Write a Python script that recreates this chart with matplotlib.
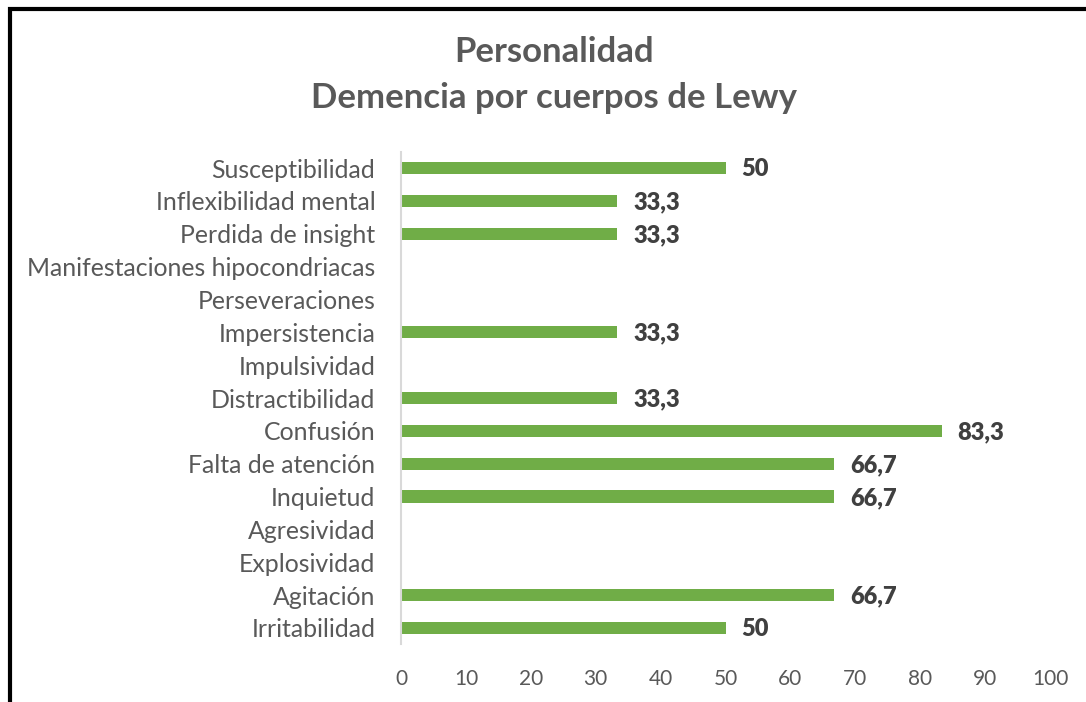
import matplotlib
matplotlib.use("Agg")
import matplotlib.pyplot as plt
from matplotlib.patches import Rectangle

categories = ["Susceptibilidad", "Inflexibilidad mental", "Perdida de insight",
              "Manifestaciones hipocondriacas", "Perseveraciones", "Impersistencia",
              "Impulsividad", "Distractibilidad", "Confusión", "Falta de atención",
              "Inquietud", "Agresividad", "Explosividad", "Agitación", "Irritabilidad"]
values = [50, 33.3, 33.3, 0, 0, 33.3, 0, 33.3, 83.3, 66.7, 66.7, 0, 0, 66.7, 50]
x_ticks = [0, 10, 20, 30, 40, 50, 60, 70, 80, 90, 100]

plt.rcParams['font.family'] = ['Lato', 'DejaVu Sans']

fig = plt.figure(figsize=(10.86, 7.02), dpi=100)
ax = fig.add_axes([401/1086, 1-644.4/702, (1050-401)/1086, (644.4-151.6)/702])

ypos = list(range(len(categories)))
ax.barh(ypos, values, height=0.37, color="#70ad47")
ax.set_ylim(len(categories)-0.5, -0.5)
ax.set_xlim(0, 100)
ax.set_yticks(ypos)
ax.set_yticklabels(categories, fontsize=17.9, color="#595959")
ax.set_xticks(x_ticks)
ax.set_xticklabels([str(t) for t in x_ticks], fontsize=15, color="#595959")
ax.tick_params(axis='both', length=0)
ax.tick_params(axis='y', pad=18.5)
ax.tick_params(axis='x', pad=17.5)
for s in ['top', 'right', 'bottom']:
    ax.spines[s].set_visible(False)
ax.spines['left'].set_color("#d9d9d9")
ax.spines['left'].set_linewidth(1.5)

for y, v in zip(ypos, values):
    if v > 0:
        lbl = ("%g" % v).replace(".", ",")
        ax.annotate(lbl, (v, y), xytext=(11.5, -1), textcoords="offset points",
                    va="center", ha="left", fontsize=17, fontweight="heavy", color="#404040")

fig.text(554/1086, 1-52/702, "Personalidad", ha="center", va="center",
         fontsize=25, fontweight="bold", color="#595959")
fig.text(554/1086, 1-98/702, "Demencia por cuerpos de Lewy", ha="center", va="center",
         fontsize=25, fontweight="bold", color="#595959")

border = Rectangle((10/1086, -0.1), 1.2, 1-8.5/702+0.1, transform=fig.transFigure,
                   fill=False, edgecolor="black", linewidth=3, clip_on=False)
fig.patches.append(border)

fig.savefig("out.png", dpi=100)
